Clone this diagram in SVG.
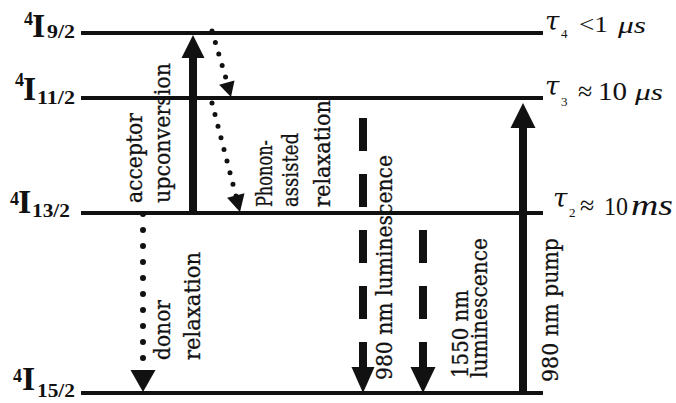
<svg xmlns="http://www.w3.org/2000/svg" width="676" height="403" viewBox="0 0 676 403">
<style>
.lvl{stroke:#111;stroke-width:4;fill:none}
.sup{font-family:"Liberation Serif",serif;font-weight:bold;font-size:18px;fill:#111}
.I{font-family:"Liberation Serif",serif;font-weight:bold;font-size:34px;fill:#111}
.sub{font-family:"Liberation Serif",serif;font-weight:bold;font-size:19px;fill:#111}
.tau{font-family:"DejaVu Serif",serif;font-style:italic;font-size:26px;fill:#111}
.tsub{font-family:"Liberation Serif",serif;font-size:13px;fill:#111}
.val{font-family:"Liberation Serif",serif;font-size:26px;fill:#111}
.unit{font-family:"Liberation Serif",serif;font-style:italic;font-size:24px;fill:#111}
.solid{stroke:#111;stroke-width:8;fill:none}
.dash{stroke:#111;stroke-width:8;fill:none;stroke-dasharray:33 23}
.dot{stroke:#111;stroke-width:5;fill:none;stroke-dasharray:0 12;stroke-linecap:round}
.dotb{stroke:#111;stroke-width:6;fill:none;stroke-dasharray:0 16;stroke-linecap:round}
.head{fill:#111}
.lab{font-family:"DejaVu Serif",serif;font-size:23px;fill:#111;stroke:#111;stroke-width:0.3}
</style>
<g id="level-4I9-2">
<line class="lvl" x1="81" y1="33" x2="543" y2="33"/>
<text class="sup" x="24" y="25">4</text>
<text class="I" x="32" y="37">I</text>
<text class="sub" x="47" y="38" textLength="28" lengthAdjust="spacingAndGlyphs">9/2</text>
<text class="tau" x="545" y="30">τ</text>
<text class="tsub" x="561" y="38">4</text>
<text class="val" x="579" y="32" textLength="29" lengthAdjust="spacingAndGlyphs" style="font-size:24px">&lt;1</text>
<text class="unit" x="618" y="33" textLength="28" lengthAdjust="spacingAndGlyphs">μs</text>
</g>
<g id="level-4I11-2">
<line class="lvl" x1="81" y1="98" x2="543" y2="98"/>
<text class="sup" x="15" y="86">4</text>
<text class="I" x="23" y="100">I</text>
<text class="sub" x="37" y="104" textLength="38" lengthAdjust="spacingAndGlyphs">11/2</text>
<text class="tau" x="545" y="95">τ</text>
<text class="tsub" x="561" y="106">3</text>
<text class="val" x="578" y="100">≈</text>
<text class="val" x="598" y="100" textLength="29" lengthAdjust="spacingAndGlyphs">10</text>
<text class="unit" x="635" y="100" textLength="28" lengthAdjust="spacingAndGlyphs">μs</text>
</g>
<g id="level-4I13-2">
<line class="lvl" x1="81" y1="213" x2="543" y2="213"/>
<text class="sup" x="10" y="205">4</text>
<text class="I" x="18" y="213">I</text>
<text class="sub" x="32" y="217" textLength="38" lengthAdjust="spacingAndGlyphs">13/2</text>
<text class="tau" x="553" y="207">τ</text>
<text class="tsub" x="569" y="217">2</text>
<text class="val" x="580" y="214">≈</text>
<text class="val" x="604" y="215" textLength="24" lengthAdjust="spacingAndGlyphs">10</text>
<text class="unit" x="631" y="215" textLength="42" lengthAdjust="spacingAndGlyphs" style="font-size:30px">ms</text>
</g>
<g id="level-4I15-2">
<line class="lvl" x1="81" y1="393" x2="543" y2="393"/>
<text class="sup" x="13" y="382">4</text>
<text class="I" x="22" y="390">I</text>
<text class="sub" x="37" y="397" textLength="38" lengthAdjust="spacingAndGlyphs">15/2</text>
</g>
<g id="connectors">
<line class="solid" x1="193" y1="213" x2="193" y2="56"/>
<polygon class="head" points="193,35 181.5,58 204.5,58"/>
<path class="dot" d="M212,31 L227,82"/>
<polygon class="head" points="231,97 219.1,84.8 234.5,80.4"/>
<path class="dot" d="M212,103 L236,196"/>
<polygon class="head" points="240,212 227.1,197.7 244.5,193.3"/>
<path class="dotb" d="M143,214 L143,368"/>
<polygon class="head" points="143,392 130.5,370 155.5,370"/>
<path class="dash" d="M363,118 L363,369"/>
<polygon class="head" points="363,393 351.5,367 374.5,367"/>
<path class="dash" d="M423,230 L423,369"/>
<polygon class="head" points="423,393 410.5,367 435.5,367"/>
<line class="solid" x1="523" y1="393" x2="523" y2="126"/>
<polygon class="head" points="523,103 510.5,128 535.5,128"/>
</g>
<g id="labels">
<text class="lab" transform="translate(142,203) rotate(-90)" textLength="90" lengthAdjust="spacingAndGlyphs">acceptor</text>
<text class="lab" transform="translate(170,203) rotate(-90)" textLength="140" lengthAdjust="spacingAndGlyphs">upconversion</text>
<text class="lab" transform="translate(272,207) rotate(-90)" textLength="67" lengthAdjust="spacingAndGlyphs">Phonon-</text>
<text class="lab" transform="translate(298,207) rotate(-90)" textLength="74" lengthAdjust="spacingAndGlyphs">assisted</text>
<text class="lab" transform="translate(330,207) rotate(-90)" textLength="107" lengthAdjust="spacingAndGlyphs">relaxation</text>
<text class="lab" transform="translate(170,360) rotate(-90)" textLength="60" lengthAdjust="spacingAndGlyphs">donor</text>
<text class="lab" transform="translate(200,360) rotate(-90)" textLength="108" lengthAdjust="spacingAndGlyphs">relaxation</text>
<text class="lab" transform="translate(392,380) rotate(-90)" textLength="225" lengthAdjust="spacingAndGlyphs">980 nm luminescence</text>
<text class="lab" transform="translate(468,378) rotate(-90)" textLength="88" lengthAdjust="spacingAndGlyphs">1550 nm</text>
<text class="lab" transform="translate(487,378) rotate(-90)" textLength="140" lengthAdjust="spacingAndGlyphs">luminescence</text>
<text class="lab" transform="translate(558,382) rotate(-90)" textLength="144" lengthAdjust="spacingAndGlyphs">980 nm pump</text>
</g>
</svg>
